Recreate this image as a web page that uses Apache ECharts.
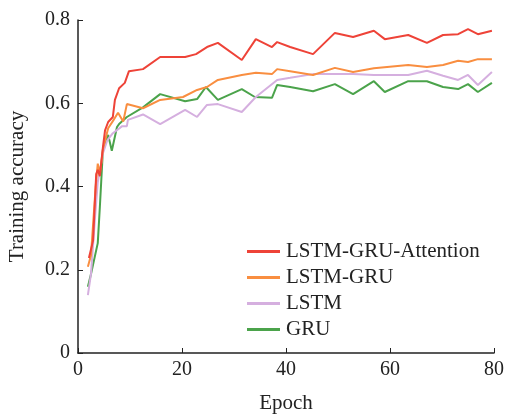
<!DOCTYPE html>
<html>
<head>
<meta charset="utf-8">
<script src="https://cdn.jsdelivr.net/npm/echarts@6/dist/echarts.min.js"></script>
<style>
  html, body { margin: 0; padding: 0; background: #fff; }
  #chart { width: 505px; height: 414px; }
</style>
</head>
<body>
<div id="chart"></div>
<script>
// training accuracy per epoch
const seriesNames = ['LSTM-GRU-Attention', 'LSTM-GRU', 'LSTM', 'GRU']
const colors = ['#ee4338', '#f98e40', '#d5afdf', '#4ba34b']

const attnEpoch = [2.1, 2.9, 3.5, 3.8, 4.2, 4.8, 5.2, 5.8, 6.7, 7.1, 7.9, 9, 9.8, 12.5, 15.8, 20.6, 22.7, 24.8, 26.9, 31.5, 34.2, 37.3, 38.3, 40.8, 45.2, 49.4, 52.9, 56.9, 59, 63.5, 67.1, 70.2, 73.1, 75, 76.9, 79.6]
const attnAcc = [0.228, 0.27, 0.43, 0.44, 0.425, 0.495, 0.535, 0.555, 0.567, 0.608, 0.636, 0.649, 0.677, 0.682, 0.711, 0.711, 0.718, 0.735, 0.745, 0.704, 0.754, 0.735, 0.747, 0.735, 0.718, 0.769, 0.759, 0.774, 0.754, 0.764, 0.745, 0.764, 0.766, 0.778, 0.766, 0.774]

const lgEpoch = [1.9, 2.5, 3.4, 3.8, 4.2, 4.8, 5.8, 6.7, 7.7, 8.7, 9.4, 12.5, 15.8, 20.2, 22.9, 24.8, 26.9, 31.5, 34.2, 37.3, 38.3, 40.8, 45.2, 49.4, 52.9, 56.9, 63.5, 67.1, 70.2, 73.1, 75, 76.9, 79.6]
const lgAcc = [0.207, 0.235, 0.4, 0.455, 0.43, 0.49, 0.54, 0.557, 0.577, 0.556, 0.598, 0.588, 0.608, 0.615, 0.632, 0.639, 0.656, 0.668, 0.673, 0.67, 0.682, 0.677, 0.668, 0.685, 0.675, 0.684, 0.692, 0.687, 0.692, 0.702, 0.699, 0.706, 0.706]

const lstmEpoch = [1.9, 2.5, 3.3, 3.8, 4.8, 5.6, 6.7, 8.5, 9.4, 9.6, 12.5, 15.8, 20.6, 22.9, 24.8, 26.9, 31.5, 34.2, 38.3, 40.8, 45.2, 49.4, 52.9, 56.9, 63.5, 67.1, 70.2, 73.1, 75, 76.9, 79.6]
const lstmAcc = [0.139, 0.19, 0.33, 0.41, 0.48, 0.51, 0.528, 0.545, 0.545, 0.56, 0.573, 0.55, 0.584, 0.567, 0.596, 0.598, 0.579, 0.615, 0.656, 0.661, 0.67, 0.67, 0.67, 0.668, 0.668, 0.678, 0.666, 0.656, 0.668, 0.644, 0.675]

const gruEpoch = [1.9, 2.5, 3.8, 4.2, 4.8, 5.8, 6.5, 7.5, 7.9, 9.4, 12.5, 15.8, 20.6, 22.9, 24.6, 26.9, 31.5, 34, 37.3, 38.3, 40.8, 45.2, 49.4, 52.9, 56.9, 59, 63.5, 67.1, 70.2, 73.1, 75, 76.9, 79.6]
const gruAcc = [0.159, 0.19, 0.264, 0.35, 0.49, 0.524, 0.486, 0.543, 0.55, 0.567, 0.59, 0.622, 0.605, 0.61, 0.639, 0.608, 0.634, 0.615, 0.613, 0.644, 0.639, 0.629, 0.646, 0.622, 0.653, 0.627, 0.653, 0.653, 0.639, 0.634, 0.646, 0.627, 0.649]

const xTicks = { min: 0, max: 80, interval: 20 }
const yTicks = { min: 0, max: 0.8, interval: 0.2 }

const font = '"Liberation Serif", "Times New Roman", serif'
const epochs = [attnEpoch, lgEpoch, lstmEpoch, gruEpoch]
const accs = [attnAcc, lgAcc, lstmAcc, gruAcc]

const chart = echarts.init(document.getElementById('chart'))
chart.setOption({
  animation: false,
  textStyle: { fontFamily: font },
  grid: { left: 78, right: 11, top: 20, bottom: 61, outerBoundsMode: 'none' },
  legend: {
    orient: 'vertical',
    left: 242,
    top: 236,
    icon: 'rect',
    itemWidth: 33,
    itemHeight: 3,
    itemGap: 5,
    data: seriesNames,
    textStyle: { fontFamily: font, fontSize: 21, color: '#222', lineHeight: 21, padding: [0, 0, 0, 1] }
  },
  xAxis: {
    type: 'value',
    ...xTicks,
    name: 'Epoch',
    nameLocation: 'middle',
    nameGap: 40,
    nameTextStyle: { fontFamily: font, fontSize: 21, color: '#222' },
    axisLine: { lineStyle: { color: '#222', width: 1.5 } },
    axisTick: { inside: true, length: 5, lineStyle: { color: '#222' } },
    axisLabel: { fontFamily: font, fontSize: 20, color: '#222', margin: 7 },
    splitLine: { show: false }
  },
  yAxis: {
    type: 'value',
    ...yTicks,
    name: 'Training accuracy',
    nameLocation: 'middle',
    nameGap: 50,
    nameTextStyle: { fontFamily: font, fontSize: 21, color: '#222' },
    axisLine: { show: true, lineStyle: { color: '#222', width: 1.5 } },
    axisTick: { show: true, inside: true, length: 5, lineStyle: { color: '#222' } },
    axisLabel: { fontFamily: font, fontSize: 20, color: '#222', margin: 8 },
    splitLine: { show: false }
  },
  series: seriesNames.map((name, i) => ({
    name,
    type: 'line',
    symbol: 'none',
    data: epochs[i].map((e, j) => [e, accs[i][j]]),
    itemStyle: { color: colors[i] },
    lineStyle: { color: colors[i], width: 2 },
    z: 10 - i
  }))
})
</script>
</body>
</html>
